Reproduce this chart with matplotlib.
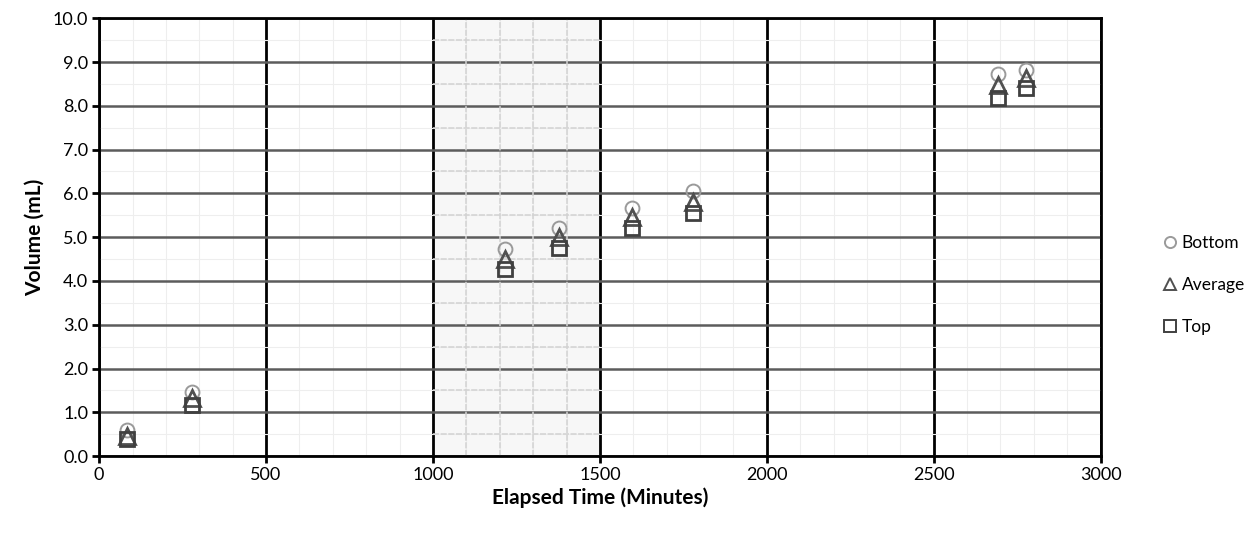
import numpy as np
import matplotlib.pyplot as plt
from matplotlib.ticker import MultipleLocator, FormatStrFormatter

plt.rcParams['font.family'] = ['Lato', 'DejaVu Sans']

# elapsed time of each sample (minutes)
elapsed = [84, 279, 1215, 1377, 1596, 1779, 2694, 2775]

# measured volumes (mL)
bottom = [0.60, 1.47, 4.72, 5.22, 5.67, 6.05, 8.73, 8.82]
average = [0.47, 1.33, 4.50, 5.00, 5.47, 5.80, 8.48, 8.63]
top = [0.40, 1.17, 4.27, 4.76, 5.22, 5.55, 8.18, 8.40]

fig = plt.figure(figsize=(12.55, 5.36), dpi=100)
ax = fig.add_axes([0.079, 0.149, 0.798, 0.817])

ax.set_xlim(0, 3000)
ax.set_ylim(0, 10)

# light band with a denser minor grid between 1000 and 1500 minutes
ax.axvspan(1000, 1500, color='#f7f7f7', zorder=0)
for xv in np.arange(1100, 1500, 100):
    ax.axvline(xv, color='#d2d2d2', lw=1.1, ls=(0, (4, 1)), zorder=1)
for yv in np.arange(0.5, 10, 1.0):
    ax.plot([1000, 1500], [yv, yv], color='#d2d2d2', lw=1.1, ls=(0, (4, 1)), zorder=1)

# faint minor grid everywhere else
ax.xaxis.set_minor_locator(MultipleLocator(100))
ax.yaxis.set_minor_locator(MultipleLocator(0.5))
ax.grid(which='minor', color='#eeeeee', lw=0.8, zorder=0)

# major grid: black verticals, grey horizontals
ax.xaxis.set_major_locator(MultipleLocator(500))
ax.yaxis.set_major_locator(MultipleLocator(1.0))
ax.grid(which='major', axis='x', color='black', lw=2.0, zorder=2)
ax.grid(which='major', axis='y', color='#5c5c5c', lw=1.8, zorder=2)
ax.set_axisbelow(True)

ax.plot(elapsed, bottom, ls='none', marker='o', ms=10, mfc='none',
        mec='#9a9a9a', mew=1.4, label='Bottom', zorder=3)
ax.plot(elapsed, average, ls='none', marker='^', ms=11, mfc='none',
        mec='#505050', mew=2.0, label='Average', zorder=4)
ax.plot(elapsed, top, ls='none', marker='s', ms=10, mfc='none',
        mec='#404040', mew=2.0, label='Top', zorder=5)

ax.yaxis.set_major_formatter(FormatStrFormatter('%.1f'))
ax.tick_params(which='major', direction='out', length=5, width=2, labelsize=13,
               colors='black', pad=3)
ax.tick_params(which='minor', length=0)
for sp in ax.spines.values():
    sp.set_color('black')
    sp.set_linewidth(2)

ax.set_xlabel('Elapsed Time (Minutes)', fontsize=15, fontweight='bold', labelpad=3)
ax.set_ylabel('Volume (mL)', fontsize=15, fontweight='bold', labelpad=6)

leg = ax.legend(loc='center left', bbox_to_anchor=(1.055, 0.39), frameon=False,
                fontsize=12.5, labelspacing=1.5, handlelength=0.8, handletextpad=0.3,
                borderaxespad=0)
for h in leg.legend_handles:
    h.set_markersize(8)
    h.set_markeredgewidth(1.4)

fig.savefig('out.png', dpi=100)
